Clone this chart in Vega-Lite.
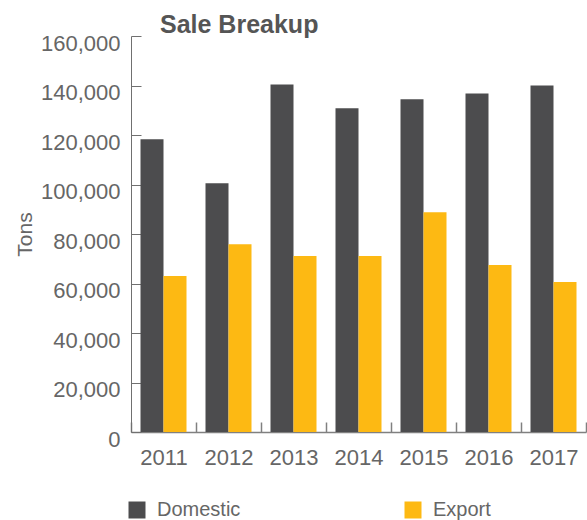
{
  "$schema": "https://vega.github.io/schema/vega-lite/v6.json",
  "width": 455,
  "height": 396,
  "autosize": {"type": "none"},
  "padding": {"left": 131, "top": 36, "right": 1, "bottom": 88},
  "title": {"text": "Sale Breakup", "anchor": "start", "frame": "group", "dx": 29, "dy": 30, "offset": 4, "baseline": "alphabetic", "fontSize": 25, "fontWeight": "bold", "color": "#555555", "font": "Liberation Sans"},
  "data": {"values": [
    {"year": "2011", "type": "Domestic", "tons": 118300},
    {"year": "2011", "type": "Export", "tons": 63000},
    {"year": "2012", "type": "Domestic", "tons": 100500},
    {"year": "2012", "type": "Export", "tons": 75900},
    {"year": "2013", "type": "Domestic", "tons": 140400},
    {"year": "2013", "type": "Export", "tons": 71100},
    {"year": "2014", "type": "Domestic", "tons": 130800},
    {"year": "2014", "type": "Export", "tons": 71100},
    {"year": "2015", "type": "Domestic", "tons": 134400},
    {"year": "2015", "type": "Export", "tons": 88800},
    {"year": "2016", "type": "Domestic", "tons": 136800},
    {"year": "2016", "type": "Export", "tons": 67500},
    {"year": "2017", "type": "Domestic", "tons": 140000},
    {"year": "2017", "type": "Export", "tons": 60600}
  ]},
  "mark": {"type": "bar"},
  "encoding": {
    "x": {
      "field": "year", "type": "nominal",
      "scale": {"paddingInner": 0, "paddingOuter": 0},
      "axis": {"title": null, "labelAngle": 0, "tickBand": "extent", "tickSize": -10, "tickColor": "#808080", "domainColor": "#808080", "domainWidth": 1.5, "tickWidth": 1.5, "labelFontSize": 22, "labelColor": "#666666", "labelPadding": 25, "grid": false}
    },
    "xOffset": {"field": "type", "type": "nominal", "scale": {"paddingInner": 0, "paddingOuter": 0.413}},
    "y": {
      "field": "tons", "type": "quantitative",
      "scale": {"domain": [0, 160000], "nice": false},
      "axis": {"title": "Tons", "values": [0, 20000, 40000, 60000, 80000, 100000, 120000, 140000, 160000], "format": ",d", "tickSize": -10, "labelPadding": 21, "labelOffset": 7, "labelFontSize": 22, "labelColor": "#666666", "domainColor": "#707070", "tickColor": "#707070", "grid": false, "titleFontSize": 21, "titleFontWeight": "normal", "titleColor": "#666666", "titleX": -106, "titleY": 198, "titleAngle": -90, "titleAlign": "center", "titleBaseline": "middle"}
    },
    "color": {
      "field": "type", "type": "nominal",
      "scale": {"domain": ["Domestic", "Export"], "range": ["#4c4c4e", "#fdb913"]},
      "legend": {"orient": "none", "legendX": -4, "legendY": 464, "direction": "horizontal", "title": null, "symbolType": "square", "symbolSize": 289, "symbolStrokeWidth": 0, "symbolOpacity": 1, "labelFontSize": 20, "labelColor": "#666666", "labelOffset": 10, "columnPadding": 162, "padding": 0}
    }
  },
  "config": {"view": {"stroke": null}, "font": "Liberation Sans"}
}
